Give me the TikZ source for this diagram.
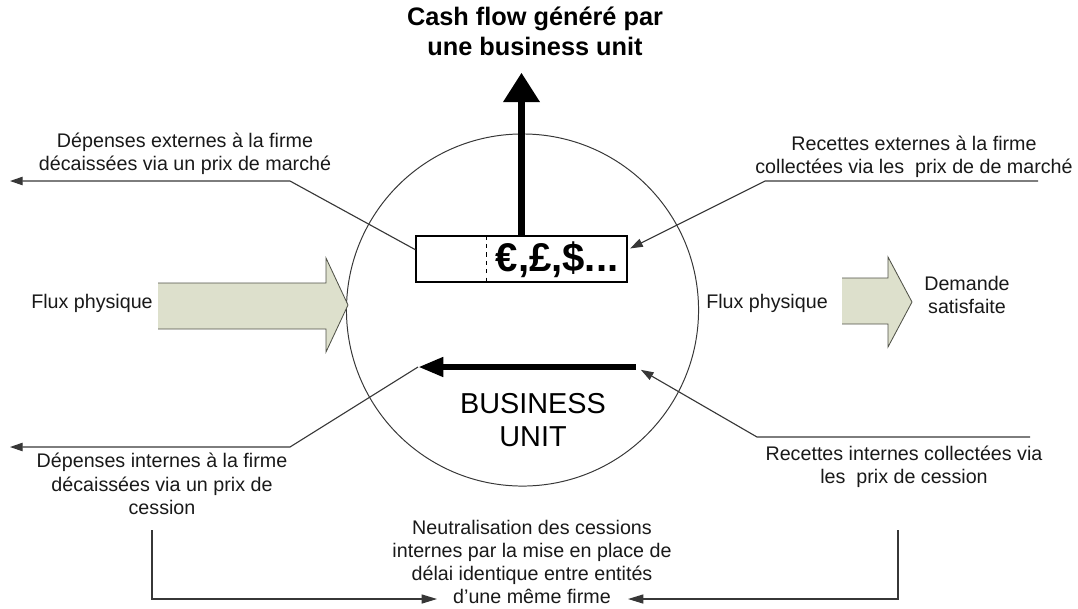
\documentclass[tikz,border=0pt]{standalone}
\usepackage{fontspec}
\setmainfont{Liberation Sans}
\usepackage{tikz}
\usetikzlibrary{
  arrows.meta,
  calc,
  positioning
}
\definecolor{encre}{RGB}{25,25,25}
\definecolor{traitgris}{RGB}{55,55,55}
\definecolor{fluxvert}{RGB}{221,224,204}
\definecolor{bordflux}{RGB}{80,82,72}
\tikzset{
  legende/.style={align=center,font=\fontsize{14}{16.5}\selectfont,
    text=encre,inner sep=2pt},
  titre/.style={align=center,font=\fontsize{18}{21.5}\selectfont\bfseries,
    inner sep=2pt},
  bunom/.style={align=center,font=\fontsize{20.5}{23}\selectfont,inner sep=2pt},
  caissebox/.style={draw=black,line width=0.8pt,minimum width=5.275cm,
    minimum height=1.15cm,inner sep=0pt},
  devise/.style={font=\fontsize{28.5}{30}\selectfont\bfseries,inner sep=0pt},
  unite/.style={draw=traitgris,line width=0.7pt,circle,minimum size=8.8cm,
    inner sep=0pt},
  lien/.style={draw=traitgris,line width=0.8pt},
  renvoi/.style={lien,-{Triangle[length=9pt,width=6pt]}},
  retour/.style={lien,-{Triangle[length=11pt,width=6.5pt]}},
  cashflow/.style={draw=black,line width=5pt,-{Triangle[length=21pt,width=25pt]}},
  interflow/.style={draw=black,line width=4.5pt,-{Triangle[length=18pt,width=13pt]}},
  fluxbody/.style={draw=bordflux,line width=0.6pt,line join=miter}
}

\begin{document}
\begin{tikzpicture}[x=0.025cm,y=-0.025cm]
  \useasboundingbox (0,0) rectangle (1078,608);

  % unite et caisse
  \node[unite] (bu) at (522.5,310) {};
  \node[caissebox] (caisse) at (521.5,259) {};
  \draw[dashed,line width=0.8pt] ($(caisse.north west)+(71,0)$) -- ($(caisse.south west)+(71,0)$);
  \node[devise] (devises) at (557,260) {€,£,\$...};
  \node[bunom] (nomBU) at (533,420) {BUSINESS\\UNIT};

  % cash flow
  \node[titre] (titre) at (535,31) {Cash flow généré par\\une business unit};
  \draw[cashflow,shorten >=10pt] (caisse.north) -- (caisse.north |- titre.south);

  % flux physiques
  \fill[fluxvert] (158,283) -- (326,283) -- (326,258) -- (348,305) -- (326,352) -- (326,329) -- (158,329) -- cycle;
  \draw[fluxbody] (158,283) -- (326,283) -- (326,258) -- (348,305) -- (326,352) -- (326,329) -- (158,329);
  \fill[fluxvert] (842,278) -- (888,278) -- (888,257) -- (912,302) -- (888,347) -- (888,324) -- (842,324) -- cycle;
  \draw[fluxbody] (842,278) -- (888,278) -- (888,257) -- (912,302) -- (888,347) -- (888,324) -- (842,324);
  \node[legende] (fluxG) at (92,303) {Flux physique};
  \node[legende] (fluxD) at (767,303) {Flux physique};
  \node[legende] (demande) at (967,295) {Demande\\satisfaite};

  % flux externes
  \node[legende] (extG) at (185,154) {Dépenses externes à la firme\\décaissées via un prix de marché};
  \node[legende] (extD) at (914,157) {Recettes externes à la firme\\collectées via les~ prix de de marché};
  \coordinate (coudeEG) at (290,181);
  \coordinate (boutEG) at (10,181);
  \coordinate (finED) at (1038,181);
  \coordinate (coudeED) at (765,181);
  \draw[renvoi] (caisse.175) -- (coudeEG) -- (boutEG);
  \draw[renvoi,shorten >=2pt] (finED) -- (coudeED) -- (caisse.5);

  % flux internes
  \coordinate (flecheA) at (636,367);
  \coordinate (flecheB) at (418,367);
  \draw[interflow] (flecheA) -- (flecheB);
  \node[legende] (intG) at (162,484) {Dépenses internes à la firme\\décaissées via un prix de\\cession};
  \node[legende] (intD) at (904,467) {Recettes internes collectées via\\les~ prix de cession};
  \coordinate (coudeIG) at (290,447);
  \coordinate (boutIG) at (10,447);
  \coordinate (finID) at (1030,437);
  \coordinate (coudeID) at (757,437);
  \draw[renvoi] (flecheB) -- (coudeIG) -- (boutIG);
  \draw[renvoi,shorten >=4pt] (finID) -- (coudeID) -- (flecheA);

  % neutralisation
  \node[legende] (neutre) at (532,562) {Neutralisation des cessions\\internes par la mise en place de\\délai identique entre entités\\d'une même firme};
  \coordinate (departG) at (152,530);
  \coordinate (pointeG) at (437,599);
  \coordinate (departD) at (898,530);
  \coordinate (pointeD) at (628,599);
  \draw[retour] (departG) |- (pointeG);
  \draw[retour] (departD) |- (pointeD);
\end{tikzpicture}
\end{document}
